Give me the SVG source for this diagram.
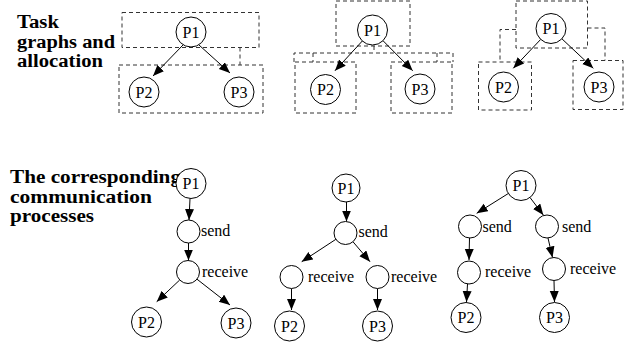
<svg xmlns="http://www.w3.org/2000/svg" width="629" height="343" viewBox="0 0 629 343">
<defs>
<marker id="ah" markerUnits="userSpaceOnUse" markerWidth="12" markerHeight="10" refX="11" refY="4.5" orient="auto">
<path d="M0,0 L11,4.5 L0,9 z" fill="#000"/>
</marker>
</defs>
<rect width="629" height="343" fill="#fff"/>
<g id="titles">
<text font-family="Liberation Serif" font-weight="bold" font-size="18" x="17" y="28" textLength="42" lengthAdjust="spacingAndGlyphs">Task</text>
<text font-family="Liberation Serif" font-weight="bold" font-size="18" x="17" y="47.5" textLength="98" lengthAdjust="spacingAndGlyphs">graphs and</text>
<text font-family="Liberation Serif" font-weight="bold" font-size="18" x="17" y="66.5" textLength="86" lengthAdjust="spacingAndGlyphs">allocation</text>
<text font-family="Liberation Serif" font-weight="bold" font-size="18" x="10" y="183" textLength="171" lengthAdjust="spacingAndGlyphs">The corresponding</text>
<text font-family="Liberation Serif" font-weight="bold" font-size="18" x="10" y="202.5" textLength="142" lengthAdjust="spacingAndGlyphs">communication</text>
<text font-family="Liberation Serif" font-weight="bold" font-size="18" x="10" y="222" textLength="84" lengthAdjust="spacingAndGlyphs">processes</text>
</g>
<g id="allocation-boxes" fill="none" stroke="#333" stroke-width="1" stroke-dasharray="4 3">
<rect x="122" y="12.5" width="137" height="35"/>
<rect x="119" y="65" width="144" height="48"/>
<path d="M240,47.5 V65"/>
<rect x="336" y="1" width="74" height="45"/>
<rect x="295" y="62" width="61" height="51"/>
<rect x="391" y="62" width="61" height="51"/>
<path d="M374,46 V53 M294,62 V53 H453 V62 M313,53 V62 M437,53 V62"/>
<rect x="516" y="1" width="71.5" height="47"/>
<rect x="478.5" y="62" width="53" height="48"/>
<rect x="573" y="60.5" width="50" height="49"/>
<path d="M516,29.5 H500 V62 M587.5,28 H605 V60.5"/>
</g>
<g id="connectors" fill="none" stroke="#000" stroke-width="1" marker-end="url(#ah)">
<path d="M183,45 L153,76"/>
<path d="M199,45 L230,73"/>
<path d="M362.3,41 L335,70.7"/>
<path d="M383,40.7 L412.7,70.7"/>
<path d="M540.7,39.4 L513.3,68.3"/>
<path d="M561.9,38.8 L593.3,68.3"/>
<path d="M190,198.5 L189,220"/>
<path d="M188.5,243 L188.5,260.5"/>
<path d="M179.7,280 L156.7,301.7"/>
<path d="M197,279.2 L230,305"/>
<path d="M346.5,202 L346.5,221.5"/>
<path d="M335.9,239.3 L301.7,261.7"/>
<path d="M353,241.8 L370,261.7"/>
<path d="M291.5,288.5 L291.5,310"/>
<path d="M377.5,288.5 L377.5,310"/>
<path d="M508.3,193.5 L476.7,213.3"/>
<path d="M530,197.5 L543.3,215"/>
<path d="M469.5,238 L469,260"/>
<path d="M548,238 L552.5,257.5"/>
<path d="M467.5,284 L466.5,302"/>
<path d="M554,280.5 L554.5,302"/>
</g>
<g id="a1-P1"><circle fill="#fff" stroke="#000" cx="191" cy="32" r="15"/><text font-family="Liberation Serif" font-size="16" text-anchor="middle" x="191" y="37.5">P1</text></g>
<g id="a1-P2"><circle fill="#fff" stroke="#000" cx="144" cy="92" r="15"/><text font-family="Liberation Serif" font-size="16" text-anchor="middle" x="144" y="97.5">P2</text></g>
<g id="a1-P3"><circle fill="#fff" stroke="#000" cx="239" cy="92" r="15"/><text font-family="Liberation Serif" font-size="16" text-anchor="middle" x="239" y="97.5">P3</text></g>
<g id="a2-P1"><circle fill="#fff" stroke="#000" cx="372.5" cy="30" r="15"/><text font-family="Liberation Serif" font-size="16" text-anchor="middle" x="372.5" y="35.5">P1</text></g>
<g id="a2-P2"><circle fill="#fff" stroke="#000" cx="325.5" cy="89.5" r="15"/><text font-family="Liberation Serif" font-size="16" text-anchor="middle" x="325.5" y="95">P2</text></g>
<g id="a2-P3"><circle fill="#fff" stroke="#000" cx="420" cy="89" r="15"/><text font-family="Liberation Serif" font-size="16" text-anchor="middle" x="420" y="94.5">P3</text></g>
<g id="a3-P1"><circle fill="#fff" stroke="#000" cx="551" cy="28.5" r="15"/><text font-family="Liberation Serif" font-size="16" text-anchor="middle" x="551" y="34">P1</text></g>
<g id="a3-P2"><circle fill="#fff" stroke="#000" cx="503.5" cy="87" r="15"/><text font-family="Liberation Serif" font-size="16" text-anchor="middle" x="503.5" y="92.5">P2</text></g>
<g id="a3-P3"><circle fill="#fff" stroke="#000" cx="599" cy="87" r="15"/><text font-family="Liberation Serif" font-size="16" text-anchor="middle" x="599" y="92.5">P3</text></g>
<g id="b1-P1"><circle fill="#fff" stroke="#000" cx="191" cy="183.5" r="15"/><text font-family="Liberation Serif" font-size="16" text-anchor="middle" x="191" y="189">P1</text></g>
<g id="b1-send"><circle fill="#fff" stroke="#000" cx="188.5" cy="231.5" r="11.5"/><text font-family="Liberation Serif" font-size="16" x="201" y="235.5">send</text></g>
<g id="b1-receive"><circle fill="#fff" stroke="#000" cx="188" cy="272" r="11.5"/><text font-family="Liberation Serif" font-size="16" x="202" y="276.5">receive</text></g>
<g id="b1-P2"><circle fill="#fff" stroke="#000" cx="146.5" cy="322" r="15"/><text font-family="Liberation Serif" font-size="16" text-anchor="middle" x="146.5" y="327.5">P2</text></g>
<g id="b1-P3"><circle fill="#fff" stroke="#000" cx="236" cy="323" r="15"/><text font-family="Liberation Serif" font-size="16" text-anchor="middle" x="236" y="328.5">P3</text></g>
<g id="b2-P1"><circle fill="#fff" stroke="#000" cx="346" cy="188" r="14"/><text font-family="Liberation Serif" font-size="16" text-anchor="middle" x="346" y="193.5">P1</text></g>
<g id="b2-send"><circle fill="#fff" stroke="#000" cx="345.5" cy="233" r="11.5"/><text font-family="Liberation Serif" font-size="16" x="358.5" y="237">send</text></g>
<g id="b2-receive1"><circle fill="#fff" stroke="#000" cx="291.5" cy="277" r="11.5"/><text font-family="Liberation Serif" font-size="16" x="308" y="282">receive</text></g>
<g id="b2-receive2"><circle fill="#fff" stroke="#000" cx="377.5" cy="277" r="11.5"/><text font-family="Liberation Serif" font-size="16" x="391" y="282">receive</text></g>
<g id="b2-P2"><circle fill="#fff" stroke="#000" cx="289.5" cy="326" r="15"/><text font-family="Liberation Serif" font-size="16" text-anchor="middle" x="289.5" y="331.5">P2</text></g>
<g id="b2-P3"><circle fill="#fff" stroke="#000" cx="377.5" cy="326" r="15"/><text font-family="Liberation Serif" font-size="16" text-anchor="middle" x="377.5" y="331.5">P3</text></g>
<g id="b3-P1"><circle fill="#fff" stroke="#000" cx="521" cy="185.5" r="15"/><text font-family="Liberation Serif" font-size="16" text-anchor="middle" x="521" y="191">P1</text></g>
<g id="b3-send1"><circle fill="#fff" stroke="#000" cx="470" cy="226.5" r="11.5"/><text font-family="Liberation Serif" font-size="16" x="482.5" y="232">send</text></g>
<g id="b3-send2"><circle fill="#fff" stroke="#000" cx="547" cy="226.5" r="11.5"/><text font-family="Liberation Serif" font-size="16" x="562" y="232">send</text></g>
<g id="b3-receive1"><circle fill="#fff" stroke="#000" cx="469" cy="272.5" r="11.5"/><text font-family="Liberation Serif" font-size="16" x="485" y="277">receive</text></g>
<g id="b3-receive2"><circle fill="#fff" stroke="#000" cx="554" cy="269" r="11.5"/><text font-family="Liberation Serif" font-size="16" x="570" y="273.5">receive</text></g>
<g id="b3-P2"><circle fill="#fff" stroke="#000" cx="466" cy="317.5" r="15"/><text font-family="Liberation Serif" font-size="16" text-anchor="middle" x="466" y="323">P2</text></g>
<g id="b3-P3"><circle fill="#fff" stroke="#000" cx="554.5" cy="317.5" r="15"/><text font-family="Liberation Serif" font-size="16" text-anchor="middle" x="554.5" y="323">P3</text></g>
</svg>
